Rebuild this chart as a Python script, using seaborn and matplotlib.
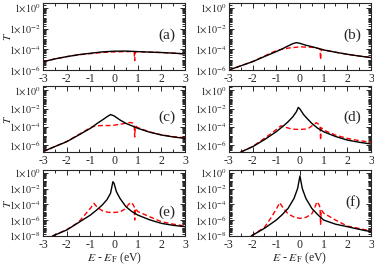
import numpy as np
import matplotlib
matplotlib.use("Agg")
import matplotlib.pyplot as plt
import matplotlib.ticker as mticker
import seaborn as sns

# exponents (log10 T)
E_a_black = [-3, -2.5, -2, -1.5, -1, -0.5, 0, 0.5, 1, 1.5, 2, 2.5, 3]
T_a_black = [-5.2, -4.93, -4.71, -4.52, -4.38, -4.25, -4.18, -4.17, -4.22, -4.27, -4.31, -4.37, -4.44]
E_a_red = [-3, -2.5, -2, -1.5, -1, -0.5, 0, 0.5, 0.8, 0.85, 0.87, 0.9, 1, 1.5, 2, 2.5, 3]
T_a_red = [-5.2, -4.93, -4.71, -4.53, -4.42, -4.3, -4.25, -4.22, -4.22, -4.3, -5.1, -4.25, -4.23, -4.27, -4.31, -4.37, -4.44]

E_b_black = [-3, -2.5, -2, -1.5, -1, -0.7, -0.5, -0.3, -0.15, 0, 0.25, 0.5, 1, 1.5, 2, 2.5, 3]
T_b_black = [-6.0, -5.6, -5.2, -4.7, -4.22, -3.9, -3.67, -3.45, -3.35, -3.42, -3.6, -3.74, -4.06, -4.28, -4.48, -4.65, -4.8]
E_b_red = [-3, -2.5, -2, -1.5, -1, -0.5, 0, 0.5, 0.8, 0.85, 0.87, 0.9, 1, 1.5, 2, 2.5, 3]
T_b_red = [-6.0, -5.6, -5.18, -4.65, -4.12, -3.88, -3.76, -3.8, -3.92, -3.98, -5.0, -4.0, -4.05, -4.28, -4.48, -4.65, -4.78]

E_c_black = [-3, -2.5, -2, -1.5, -1, -0.7, -0.5, -0.3, -0.15, 0, 0.25, 0.5, 1, 1.5, 2, 2.5, 3]
T_c_black = [-6.7, -6.15, -5.62, -4.9, -4.16, -3.6, -3.26, -2.9, -2.66, -2.8, -3.25, -3.62, -4.16, -4.58, -4.89, -5.1, -5.26]
E_c_red = [-3, -2.5, -2, -1.5, -1, -0.8, -0.5, -0.25, 0, 0.25, 0.5, 0.7, 0.8, 0.85, 0.87, 0.9, 1, 1.5, 2, 2.5, 3]
T_c_red = [-6.7, -6.15, -5.6, -4.85, -4.1, -3.9, -3.85, -3.86, -3.82, -3.72, -3.6, -3.52, -3.6, -3.7, -5.1, -3.9, -4.08, -4.55, -4.87, -5.07, -5.2]

E_d_black = [-2.5, -2, -1.5, -1, -0.7, -0.5, -0.3, -0.15, -0.07, 0, 0.15, 0.3, 0.5, 0.75, 1, 1.5, 2, 2.5, 3]
T_d_black = [-6.75, -6.17, -5.4, -4.53, -3.9, -3.44, -2.9, -2.35, -1.88, -2.05, -2.65, -3.08, -3.62, -4.15, -4.53, -5.05, -5.44, -5.68, -5.87]
E_d_red = [-2.5, -2, -1.5, -1.2, -1, -0.8, -0.6, -0.4, -0.2, 0, 0.2, 0.4, 0.6, 0.7, 0.8, 0.85, 0.87, 0.9, 1, 1.5, 2, 2.5, 3]
T_d_red = [-6.75, -6.15, -5.25, -4.7, -4.3, -3.88, -4.05, -4.2, -4.27, -4.28, -4.25, -4.1, -3.7, -3.55, -3.75, -3.9, -5.45, -4.1, -4.35, -4.9, -5.26, -5.5, -5.69]

E_e_black = [-2.6, -2, -1.5, -1, -0.75, -0.5, -0.3, -0.15, -0.05, 0, 0.1, 0.25, 0.5, 0.75, 1, 1.5, 2, 2.5, 3]
T_e_black = [-8.0, -7.24, -6.3, -5.35, -4.75, -4.08, -3.4, -2.6, -1.13, -1.34, -2.4, -3.24, -4.29, -4.9, -5.35, -5.95, -6.4, -6.65, -6.82]
E_e_red = [-2.6, -2, -1.5, -1.2, -1, -0.85, -0.7, -0.5, -0.25, 0, 0.25, 0.45, 0.6, 0.7, 0.8, 0.85, 0.87, 0.9, 1, 1.5, 2, 2.5, 3]
T_e_red = [-8.0, -7.2, -6.25, -5.2, -4.5, -3.87, -4.4, -4.8, -5.0, -5.02, -4.95, -4.6, -4.05, -3.74, -4.0, -4.3, -5.98, -4.5, -4.9, -5.56, -6.19, -6.5, -6.74]

E_f_black = [-2.06, -1.5, -1, -0.75, -0.5, -0.25, -0.1, 0, 0.1, 0.25, 0.5, 0.75, 1, 1.5, 2, 2.5, 3]
T_f_black = [-8.0, -7.03, -5.98, -5.3, -4.5, -3.24, -2.0, -0.41, -2.0, -3.24, -4.5, -5.3, -5.98, -6.5, -6.82, -7.15, -7.46]
E_f_red = [-2.06, -1.5, -1.2, -1, -0.85, -0.7, -0.5, -0.25, 0, 0.25, 0.5, 0.6, 0.72, 0.8, 0.85, 0.87, 0.9, 1, 1.5, 2, 2.5, 3]
T_f_red = [-8.0, -6.9, -5.6, -4.6, -3.78, -4.5, -5.2, -5.6, -5.77, -5.65, -5.2, -4.6, -3.66, -4.0, -4.4, -6.61, -4.7, -5.1, -5.98, -6.74, -7.05, -7.37]

labels = ["(a)", "(b)", "(c)", "(d)", "(e)", "(f)"]
ylims = [(1e-6, 10**0.5), (1e-6, 10**0.5), (10**-6.75, 10**0.45),
         (10**-6.75, 10**0.45), (1e-8, 10**0.35), (1e-8, 10**0.35)]

sns.set_theme(style="ticks")
plt.rcParams['font.family'] = ['Liberation Serif', 'DejaVu Serif']
plt.rcParams['mathtext.fontset'] = 'stix'
plt.rcParams['axes.unicode_minus'] = False

fig = plt.figure(figsize=(3.74, 2.64), dpi=100)
lefts = [0.115, 0.612]
bottoms = [0.735, 0.424, 0.106]
heights = [0.254, 0.25, 0.25]

panels = [
    (E_a_black, T_a_black, E_a_red, T_a_red),
    (E_b_black, T_b_black, E_b_red, T_b_red),
    (E_c_black, T_c_black, E_c_red, T_c_red),
    (E_d_black, T_d_black, E_d_red, T_d_red),
    (E_e_black, T_e_black, E_e_red, T_e_red),
    (E_f_black, T_f_black, E_f_red, T_f_red),
]

def fmt(v, pos):
    return r'$1{\times}10^{%d}$' % int(round(np.log10(v)))

for i, (eb, tb, er, tr) in enumerate(panels):
    row, col = divmod(i, 2)
    ax = fig.add_axes([lefts[col], bottoms[row], 0.380, heights[row]])
    ax.set_yscale('log')
    sns.lineplot(x=er, y=10.0**np.array(tr), color='red', linestyle=(0, (3.5, 2)),
                 lw=1.0, ax=ax)
    sns.lineplot(x=eb, y=10.0**np.array(tb), color='black', lw=1.0, ax=ax)
    ax.set_xlim(-3, 3)
    ax.set_ylim(*ylims[i])
    ax.xaxis.set_major_locator(mticker.MultipleLocator(1))
    ax.xaxis.set_minor_locator(mticker.MultipleLocator(0.5))
    ax.yaxis.set_major_locator(mticker.FixedLocator(10.0**np.arange(-8, 1, 2)))
    ax.yaxis.set_minor_locator(mticker.LogLocator(base=10, subs='all', numticks=30))
    ax.yaxis.set_major_formatter(mticker.FuncFormatter(fmt))
    ax.yaxis.set_minor_formatter(mticker.NullFormatter())
    ax.xaxis.set_major_formatter(mticker.FormatStrFormatter('%d'))
    ax.tick_params(which='both', direction='in', top=True, right=True,
                   labelsize=8.5, pad=2, width=0.7)
    ax.tick_params(axis='y', labelsize=7.2, pad=1.5)
    ax.tick_params(which='major', length=3.5)
    ax.tick_params(which='minor', length=2)
    for s in ax.spines.values():
        s.set_linewidth(0.8)
    ax.text(0.87, 0.36 if i == 4 else 0.52, labels[i], transform=ax.transAxes,
            fontsize=11, ha='center', va='center')
    if col == 0:
        ax.set_ylabel(r'$T$', fontsize=8)
        ax.yaxis.set_label_coords(-0.21, 0.5)
    else:
        ax.set_ylabel('')
    if row == 2:
        ax.set_xlabel(r'$E$ - $E_{\rm F}$ (eV)', fontsize=8.5, labelpad=-0.5)
    else:
        ax.set_xlabel('')

fig.savefig("out.png", dpi=100)
